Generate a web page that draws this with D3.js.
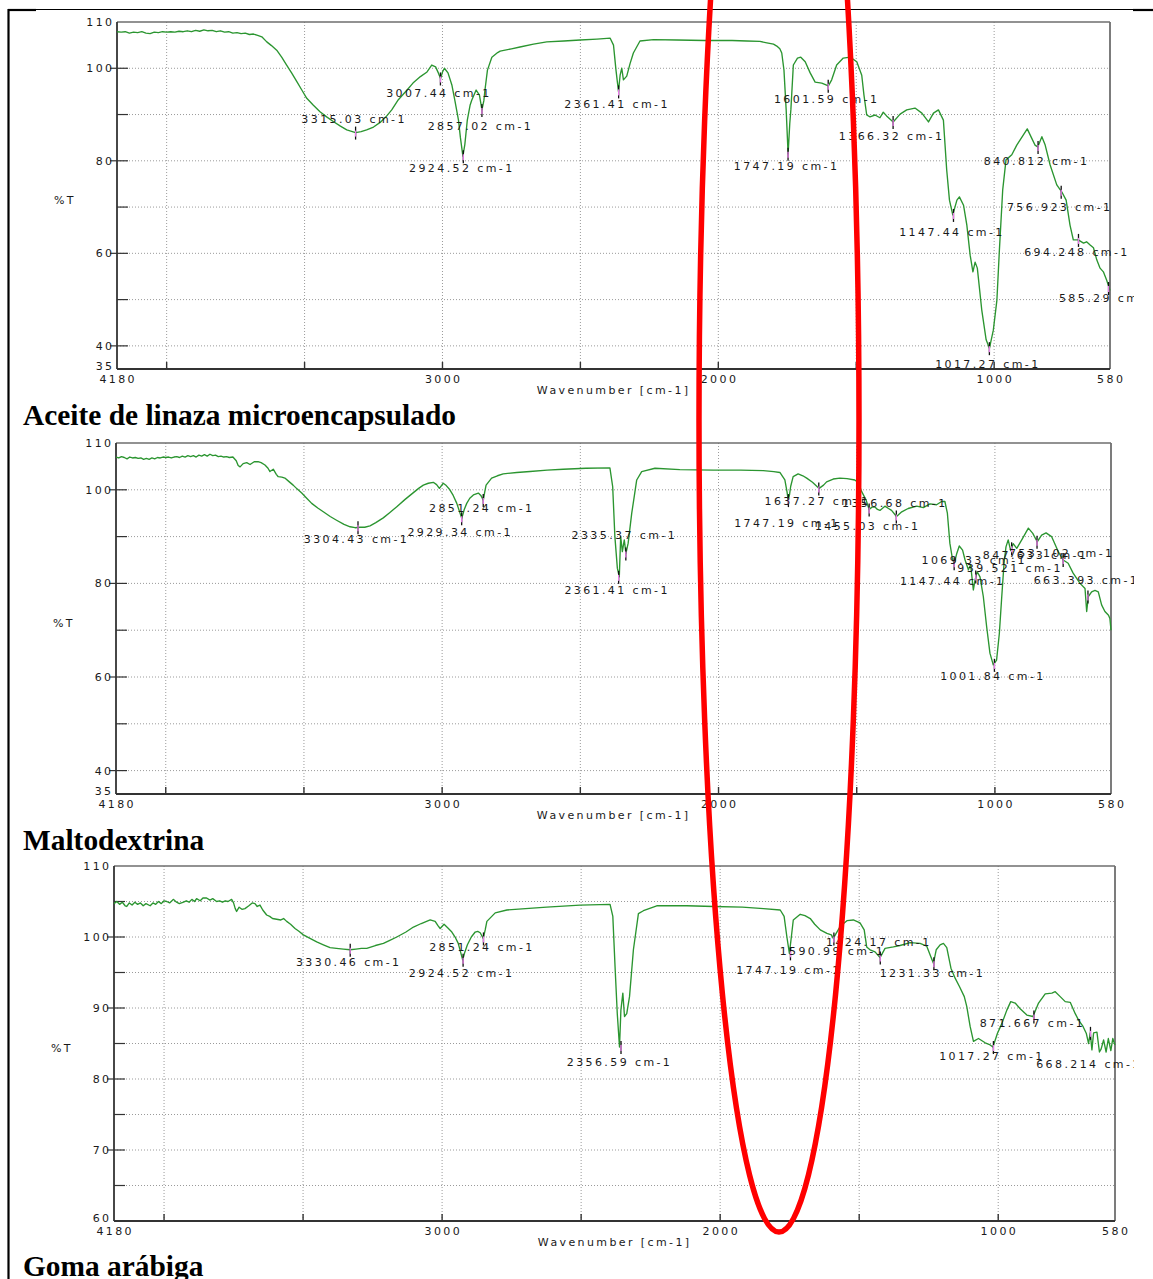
<!DOCTYPE html>
<html>
<head>
<meta charset="utf-8">
<script src="https://cdn.jsdelivr.net/npm/d3@7"></script>
<style>
  html, body { margin: 0; padding: 0; background: #fff; }
  svg { display: block; }
  .tl { font-family: "DejaVu Sans", sans-serif; font-size: 11px; letter-spacing: 2.4px; fill: #1a1a1a; }
  .title { font-family: "Liberation Serif", "Times New Roman", serif; font-weight: bold; font-size: 29.4px; fill: #000; }
</style>
</head>
<body>
<svg id="chart" width="1153" height="1279"></svg>
<script>
// ---------- data ----------
const xDomain = [4180, 580];
const xTickLabels = [4180, 3000, 2000, 1000, 580];
const xGridValues = [4000, 3500, 3000, 2500, 2000, 1500, 1000];

const sampleTitles = ["Aceite de linaza microencapsulado", "Maltodextrina", "Goma arábiga"];
const yDomains = [[35, 110], [35, 110], [60, 110]];
const yTickLabels = [
  [35, 40, 60, 80, 100, 110],
  [35, 40, 60, 80, 100, 110],
  [60, 70, 80, 90, 100, 110]
];
const yGridValues = [
  [40, 50, 60, 70, 80, 90, 100],
  [40, 50, 60, 70, 80, 90, 100],
  [65, 70, 75, 80, 85, 90, 95, 100, 105]
];

// spectra: [wavenumber cm-1, %T]
const aceiteSpectrum = [
[4180,107.9],[4165,107.8],[4150,107.9],[4135,107.6],[4120,107.8],[4105,107.7],[4090,107.9],[4075,107.6],[4060,107.5],[4045,107.8],[4030,107.7],[4015,107.9],[4000,107.8],[3985,107.9],[3970,107.8],[3955,108.0],[3940,107.9],[3925,108.1],[3910,107.9],[3895,108.2],[3880,108.0],[3865,108.3],[3850,108.1],[3835,108.2],[3820,107.9],[3805,108.1],[3790,107.8],[3775,107.9],[3760,107.6],[3745,107.7],[3730,107.5],[3715,107.6],[3700,107.3],[3685,107.4],[3670,107.1],[3655,106.8],[3637,105.7],[3620,104.9],[3601,103.9],[3583,102.4],[3565,100.7],[3547,99.0],[3528,97.1],[3510,95.3],[3492,93.5],[3468,92.0],[3444,90.6],[3420,89.5],[3396,88.5],[3370,87.5],[3347,86.7],[3315,86.1],[3295,86.3],[3275,86.7],[3250,87.3],[3226,88.3],[3205,89.5],[3184,91.0],[3160,93.2],[3130,95.2],[3107,96.8],[3080,98.2],[3056,99.2],[3039,100.7],[3025,100.3],[3015,99.0],[3007,97.8],[3000,99.2],[2993,100.0],[2980,99.0],[2966,96.4],[2955,93.0],[2942,88.8],[2935,85.0],[2926,81.0],[2919,83.5],[2910,88.8],[2900,92.0],[2894,93.1],[2878,95.3],[2866,94.2],[2857,91.0],[2850,93.0],[2846,95.3],[2837,99.6],[2821,102.4],[2800,103.4],[2791,103.7],[2750,104.2],[2719,104.6],[2670,105.2],[2622,105.7],[2560,105.9],[2501,106.1],[2440,106.3],[2392,106.5],[2380,105.0],[2371,99.6],[2362,95.0],[2356,98.5],[2350,100.0],[2344,97.5],[2332,98.3],[2320,101.0],[2308,103.3],[2284,105.9],[2235,106.2],[2150,106.1],[2050,106.0],[1950,106.0],[1897,105.9],[1849,105.8],[1824,105.5],[1800,105.2],[1788,104.8],[1777,104.2],[1770,103.3],[1762,99.6],[1754,91.0],[1747,81.5],[1741,88.0],[1737,91.0],[1728,100.7],[1713,102.2],[1701,102.4],[1685,101.4],[1667,99.0],[1649,97.0],[1625,96.8],[1601,96.2],[1589,97.5],[1571,100.7],[1547,102.2],[1522,102.4],[1498,101.4],[1480,98.5],[1472,94.2],[1462,89.9],[1450,89.5],[1432,89.9],[1414,89.3],[1402,90.5],[1390,89.7],[1366,88.4],[1341,90.1],[1317,91.0],[1287,91.4],[1262,90.3],[1238,88.4],[1220,90.3],[1202,91.0],[1184,88.8],[1172,78.0],[1162,71.5],[1150,68.3],[1135,71.5],[1126,72.2],[1111,70.4],[1099,66.1],[1087,59.6],[1077,56.0],[1069,58.1],[1061,56.8],[1045,47.8],[1029,41.3],[1017,39.5],[1003,43.4],[990,49.9],[981,60.7],[969,73.7],[957,80.2],[936,81.3],[918,83.4],[894,85.6],[880,86.9],[864,84.9],[852,83.4],[842,83.0],[827,85.2],[815,83.4],[797,79.1],[773,74.8],[755,73.3],[739,71.5],[725,66.1],[713,62.9],[695,62.9],[676,62.2],[665,62.5],[652,61.8],[640,61.2],[628,58.6],[616,56.8],[604,56.0],[592,54.2],[580,52.0]
];

const maltoSpectrum = [
[4180,107.0],[4170,106.8],[4160,107.1],[4150,106.9],[4140,106.6],[4130,107.0],[4120,106.8],[4110,106.9],[4100,106.7],[4090,106.8],[4080,106.5],[4070,106.7],[4060,106.5],[4050,106.8],[4040,106.6],[4030,106.9],[4020,106.8],[4010,107.0],[4000,106.9],[3990,107.0],[3980,106.8],[3970,107.0],[3960,107.1],[3950,106.9],[3940,107.2],[3930,107.0],[3920,107.3],[3910,107.1],[3900,107.3],[3890,107.0],[3880,107.4],[3870,107.2],[3860,107.5],[3850,107.2],[3840,107.6],[3830,107.3],[3820,107.4],[3810,107.1],[3800,107.2],[3790,107.0],[3780,107.1],[3770,106.9],[3757,107.0],[3745,106.2],[3738,105.2],[3731,104.9],[3720,105.6],[3707,105.8],[3695,105.4],[3680,106.0],[3666,106.0],[3655,105.8],[3641,105.3],[3630,104.6],[3623,103.9],[3611,104.4],[3600,103.3],[3593,102.8],[3580,102.7],[3569,102.5],[3555,101.8],[3539,101.0],[3525,100.2],[3508,99.3],[3490,98.2],[3472,97.1],[3450,96.1],[3430,95.3],[3405,94.3],[3382,93.5],[3355,92.6],[3333,92.1],[3315,91.9],[3297,92.0],[3280,92.0],[3261,92.3],[3240,93.0],[3213,94.0],[3190,95.1],[3164,96.4],[3135,97.9],[3104,99.4],[3085,100.3],[3068,101.0],[3050,101.4],[3032,101.6],[3020,101.1],[3010,100.3],[2996,101.4],[2985,100.9],[2972,100.0],[2960,98.8],[2947,97.1],[2938,95.5],[2929,93.9],[2920,95.8],[2911,97.1],[2900,98.2],[2887,98.9],[2869,99.3],[2860,98.8],[2851,97.8],[2846,99.5],[2841,101.0],[2821,102.5],[2800,103.0],[2779,103.4],[2730,103.7],[2682,103.9],[2620,104.2],[2562,104.4],[2480,104.6],[2393,104.7],[2383,100.7],[2375,90.0],[2366,83.2],[2359,81.4],[2354,90.0],[2348,86.8],[2341,89.3],[2335,86.4],[2327,88.6],[2314,95.0],[2296,102.1],[2278,103.9],[2230,104.6],[2140,104.3],[2019,104.2],[1920,104.2],[1838,104.1],[1800,103.9],[1778,103.7],[1760,102.1],[1752,99.5],[1748,97.8],[1743,99.0],[1739,100.7],[1730,102.8],[1712,103.4],[1695,103.0],[1681,102.5],[1660,101.6],[1636,100.3],[1620,101.0],[1609,101.7],[1585,102.3],[1561,102.5],[1535,102.4],[1507,102.1],[1494,101.5],[1482,99.6],[1466,97.8],[1455,95.8],[1445,96.3],[1434,96.3],[1425,95.8],[1416,95.6],[1398,96.5],[1385,96.0],[1374,95.6],[1356,94.3],[1337,95.3],[1314,96.0],[1283,96.5],[1259,96.2],[1235,97.0],[1211,96.8],[1193,97.5],[1181,97.5],[1172,95.0],[1163,88.6],[1153,85.0],[1147,84.3],[1138,86.4],[1129,88.0],[1117,87.1],[1108,85.0],[1096,82.9],[1088,84.0],[1078,78.6],[1072,80.7],[1064,82.5],[1054,81.4],[1042,77.2],[1030,70.8],[1018,65.1],[1006,62.6],[994,63.6],[984,69.3],[976,76.5],[967,84.3],[960,87.8],[952,89.3],[943,87.0],[934,88.5],[921,87.5],[903,89.3],[879,91.8],[863,90.7],[847,88.9],[831,90.3],[815,90.8],[795,90.0],[771,86.8],[753,85.0],[735,84.3],[717,82.2],[692,80.0],[674,78.9],[668,74.0],[662,77.2],[650,78.2],[638,78.5],[626,78.2],[614,75.4],[602,74.0],[589,73.2],[584,72.5],[580,70.0]
];

const gomaSpectrum = [
[4180,104.7],[4170,105.0],[4160,104.6],[4150,104.9],[4140,104.4],[4134,104.3],[4125,104.8],[4115,104.5],[4105,104.9],[4095,104.6],[4085,104.8],[4075,104.4],[4065,104.7],[4050,104.4],[4040,104.8],[4030,104.6],[4020,105.0],[4010,104.7],[4000,105.1],[3990,105.0],[3980,104.8],[3966,105.3],[3955,104.9],[3945,104.7],[3930,104.9],[3920,105.1],[3910,104.9],[3900,105.3],[3890,105.0],[3883,105.4],[3870,105.1],[3860,105.5],[3847,105.5],[3835,105.2],[3825,105.4],[3811,105.0],[3800,105.1],[3790,104.9],[3780,105.1],[3770,105.0],[3757,105.3],[3750,104.8],[3744,104.0],[3739,103.6],[3730,104.2],[3720,103.9],[3709,104.0],[3695,104.4],[3683,104.8],[3673,104.7],[3665,104.3],[3655,104.5],[3645,103.8],[3631,103.1],[3620,102.9],[3610,102.6],[3595,102.5],[3580,102.4],[3570,102.6],[3559,102.2],[3545,101.8],[3529,101.2],[3515,100.8],[3499,100.3],[3475,99.8],[3451,99.3],[3427,98.9],[3403,98.5],[3380,98.4],[3355,98.3],[3331,98.2],[3310,98.3],[3290,98.4],[3271,98.4],[3240,98.8],[3211,99.1],[3190,99.5],[3163,100.0],[3130,100.7],[3103,101.4],[3075,101.9],[3043,102.4],[3025,102.2],[3015,101.6],[3007,101.2],[2993,101.8],[2980,101.3],[2965,100.7],[2952,99.9],[2942,99.1],[2933,97.8],[2926,96.8],[2918,97.9],[2909,98.9],[2895,100.0],[2881,100.7],[2872,100.8],[2863,100.6],[2852,99.8],[2845,101.0],[2839,102.2],[2809,103.4],[2767,103.8],[2700,104.0],[2624,104.2],[2504,104.5],[2396,104.6],[2386,102.9],[2378,95.8],[2370,89.2],[2362,84.5],[2357,89.7],[2350,92.1],[2344,88.8],[2336,89.2],[2326,91.6],[2312,98.2],[2294,103.3],[2276,103.7],[2228,104.4],[2120,104.4],[2024,104.3],[1920,104.2],[1844,104.0],[1784,103.8],[1770,102.9],[1760,100.0],[1751,97.7],[1744,100.0],[1737,102.4],[1712,103.2],[1695,103.0],[1676,102.6],[1660,101.8],[1640,101.0],[1616,100.5],[1600,100.3],[1593,99.8],[1586,100.3],[1568,101.5],[1544,102.3],[1521,102.4],[1497,102.0],[1482,101.0],[1473,98.6],[1461,98.2],[1443,97.9],[1425,97.1],[1407,98.4],[1377,98.6],[1353,98.8],[1317,99.2],[1281,99.1],[1257,98.7],[1242,97.2],[1233,96.3],[1223,98.2],[1209,98.9],[1197,99.1],[1185,98.5],[1170,95.6],[1155,94.2],[1139,93.0],[1122,91.6],[1113,90.2],[1101,87.4],[1089,85.3],[1071,85.7],[1047,85.1],[1029,84.8],[1019,84.5],[1003,86.4],[987,87.8],[969,89.7],[955,90.9],[939,90.7],[921,89.9],[897,89.0],[875,88.8],[855,90.7],[831,92.0],[807,92.1],[795,92.3],[777,91.6],[759,90.9],[741,90.8],[723,89.2],[711,88.3],[695,87.4],[683,86.4],[675,85.0],[669,86.5],[663,84.1],[657,86.5],[645,86.6],[636,83.8],[630,84.2],[621,85.5],[612,83.8],[604,85.7],[595,84.0],[588,85.7],[580,84.8]
];

// picked peaks: [wavenumber, %T at the peak, %T level of its label]
const aceitePeaks = [
  [3315.03, 86.1, 89.0], [3007.44, 97.8, 94.7], [2857.02, 91.0, 87.5], [2924.52, 81.0, 78.4],
  [2361.41, 95.0, 92.3], [1747.19, 81.5, 78.9], [1601.59, 96.2, 93.4], [1366.32, 88.4, 85.4],
  [1147.44, 68.3, 64.6], [1017.27, 39.5, 36.1], [840.812, 83.0, 80.0], [756.923, 73.3, 70.0],
  [694.248, 62.9, 60.3], [585.29, 52.5, 50.4]
];
const maltoPeaks = [
  [3304.43, 92.0, 89.5], [2929.34, 93.9, 91.0], [2851.24, 97.8, 96.1], [2335.37, 86.4, 90.3],
  [2361.41, 81.4, 78.6], [1637.27, 100.3, 97.6], [1747.19, 97.8, 92.9], [1356.68, 94.3, 97.2],
  [1455.03, 95.8, 92.3], [1147.44, 84.3, 80.5], [1069.33, 81.5, 85.0], [1001.84, 62.6, 60.2],
  [939.521, 87.5, 83.3], [847.633, 88.9, 86.1], [753.102, 85.0, 86.5], [663.393, 77.2, 80.7]
];
const gomaPeaks = [
  [3330.46, 98.2, 96.5], [2924.52, 96.8, 94.9], [2851.24, 99.8, 98.6], [2356.59, 84.5, 82.4],
  [1747.19, 97.7, 95.4], [1590.99, 99.8, 98.0], [1424.17, 97.1, 99.3], [1231.33, 96.3, 94.9],
  [1017.27, 84.5, 83.2], [871.667, 88.8, 87.9], [668.214, 86.5, 82.1]
];

const spectra = [aceiteSpectrum, maltoSpectrum, gomaSpectrum];
const peakSets = [aceitePeaks, maltoPeaks, gomaPeaks];

// ---------- layout ----------
const panelBoxes = [
  { left: 117, right: 1110, top: 22,  bottom: 369,  titleY: 425 },
  { left: 116, right: 1111, top: 443, bottom: 794,  titleY: 850 },
  { left: 114, right: 1115, top: 866, bottom: 1221, titleY: 1276 }
];
const lineColor = "#2b9530";
const markPink = "#e87de8";

const svg = d3.select("#chart");

// label clip (the page ends at the cell edge)
svg.append("defs").append("clipPath").attr("id", "pageClip")
  .append("rect").attr("x", 0).attr("y", 0).attr("width", 1134).attr("height", 1279);

// outer cell frame
const frame = svg.append("g");
frame.append("line").attr("x1", 8).attr("x2", 1153).attr("y1", 9.5).attr("y2", 9.5)
  .attr("stroke", "#000").attr("stroke-width", 1.2);
frame.append("line").attr("x1", 8).attr("x2", 36).attr("y1", 10).attr("y2", 10)
  .attr("stroke", "#000").attr("stroke-width", 2.2);
frame.append("line").attr("x1", 1133).attr("x2", 1153).attr("y1", 10).attr("y2", 10)
  .attr("stroke", "#000").attr("stroke-width", 2.2);
frame.append("line").attr("x1", 8.5).attr("x2", 8.5).attr("y1", 9).attr("y2", 1279)
  .attr("stroke", "#000").attr("stroke-width", 2.2);

panelBoxes.forEach((b, i) => {
  const g = svg.append("g");
  const x = d3.scaleLinear().domain(xDomain).range([b.left, b.right]);
  const y = d3.scaleLinear().domain(yDomains[i]).range([b.bottom, b.top]);
  const labelled = new Set(yTickLabels[i]);

  // grid
  g.selectAll(".vg").data(xGridValues).join("line")
    .attr("x1", d => x(d)).attr("x2", d => x(d))
    .attr("y1", b.top).attr("y2", b.bottom)
    .attr("stroke", "#9a9a9a").attr("stroke-width", 1).attr("stroke-dasharray", "1,2");
  g.selectAll(".hg").data(yGridValues[i]).join("line")
    .attr("x1", b.left).attr("x2", b.right)
    .attr("y1", d => y(d)).attr("y2", d => y(d))
    .attr("stroke", "#9a9a9a").attr("stroke-width", 1).attr("stroke-dasharray", "1,2");

  // frame of the plot area
  g.append("line").attr("x1", b.left).attr("x2", b.right).attr("y1", b.top).attr("y2", b.top)
    .attr("stroke", "#6e6e6e").attr("stroke-width", 1.6);
  g.append("line").attr("x1", b.right).attr("x2", b.right).attr("y1", b.top).attr("y2", b.bottom)
    .attr("stroke", "#6e6e6e").attr("stroke-width", 1.8);
  g.append("line").attr("x1", b.left).attr("x2", b.right).attr("y1", b.bottom).attr("y2", b.bottom)
    .attr("stroke", "#333").attr("stroke-width", 1.8);
  g.append("line").attr("x1", b.left).attr("x2", b.left).attr("y1", b.top).attr("y2", b.bottom)
    .attr("stroke", "#333").attr("stroke-width", 1.8);

  // y ticks
  const yTickVals = Array.from(new Set([...yGridValues[i], ...yTickLabels[i]]))
    .filter(v => v > yDomains[i][0] && v < yDomains[i][1]);
  g.selectAll(".yt").data(yTickVals).join("line")
    .attr("x1", d => labelled.has(d) ? b.left - 7 : b.left)
    .attr("x2", b.left + 11)
    .attr("y1", d => y(d)).attr("y2", d => y(d))
    .attr("stroke", "#333").attr("stroke-width", 1.2);
  g.selectAll(".yl").data(yTickLabels[i]).join("text")
    .attr("class", "tl").attr("text-anchor", "end")
    .attr("x", b.left - 2.5)
    .attr("y", d => d === yDomains[i][0] ? y(d) - 3 : y(d))
    .attr("dy", "0.36em")
    .text(d => d);

  // x ticks
  g.selectAll(".xt").data(xGridValues).join("line")
    .attr("x1", d => x(d)).attr("x2", d => x(d))
    .attr("y1", b.bottom).attr("y2", b.bottom - 7)
    .attr("stroke", "#333").attr("stroke-width", 1.4);
  g.selectAll(".xl").data(xTickLabels).join("text")
    .attr("class", "tl").attr("text-anchor", "middle")
    .attr("x", d => x(d) + 1.2)
    .attr("y", b.bottom + 10).attr("dy", "0.36em")
    .text(d => d);

  // axis titles
  g.append("text").attr("class", "tl").attr("text-anchor", "middle")
    .attr("x", (b.left + b.right) / 2 + 0.2).attr("y", b.bottom + 21).attr("dy", "0.36em")
    .text("Wavenumber [cm-1]");
  g.append("text").attr("class", "tl").attr("text-anchor", "middle")
    .attr("x", b.left - 52).attr("y", (b.top + b.bottom) / 2 + 5).attr("dy", "0.36em")
    .text("%T");

  // spectrum
  const line = d3.line().x(d => x(d[0])).y(d => y(d[1]));
  g.append("path").datum(spectra[i])
    .attr("d", line).attr("fill", "none")
    .attr("stroke", lineColor).attr("stroke-width", 1.35).attr("stroke-linejoin", "round");

  // peak marks and labels
  const pk = g.append("g");
  const peaks = peakSets[i];
  pk.selectAll(".pm").data(peaks).join("line")
    .attr("x1", d => x(d[0])).attr("x2", d => x(d[0]))
    .attr("y1", d => y(d[1]) - 6).attr("y2", d => y(d[1]) + 7)
    .attr("stroke", "#111").attr("stroke-width", 1.3);
  pk.selectAll(".pp").data(peaks).join("line")
    .attr("x1", d => x(d[0])).attr("x2", d => x(d[0]))
    .attr("y1", d => y(d[1]) - 2).attr("y2", d => y(d[1]) + 4)
    .attr("stroke", markPink).attr("stroke-width", 1.3);
  pk.selectAll(".pl").data(peaks).join("text")
    .attr("class", "tl").attr("text-anchor", "middle")
    .attr("clip-path", "url(#pageClip)")
    .attr("x", d => x(d[0]) - 1.5)
    .attr("y", d => y(d[2])).attr("dy", "0.36em")
    .text(d => `${d[0]} cm-1`);

  // sample title
  svg.append("text").attr("class", "title")
    .attr("x", 23).attr("y", b.titleY)
    .text(sampleTitles[i]);
});

// highlight of the carbonyl region across the three spectra
svg.append("ellipse")
  .attr("cx", 779).attr("cy", 420).attr("rx", 80).attr("ry", 812)
  .attr("fill", "none").attr("stroke", "#ff0000").attr("stroke-width", 5.5);
</script>
</body>
</html>
